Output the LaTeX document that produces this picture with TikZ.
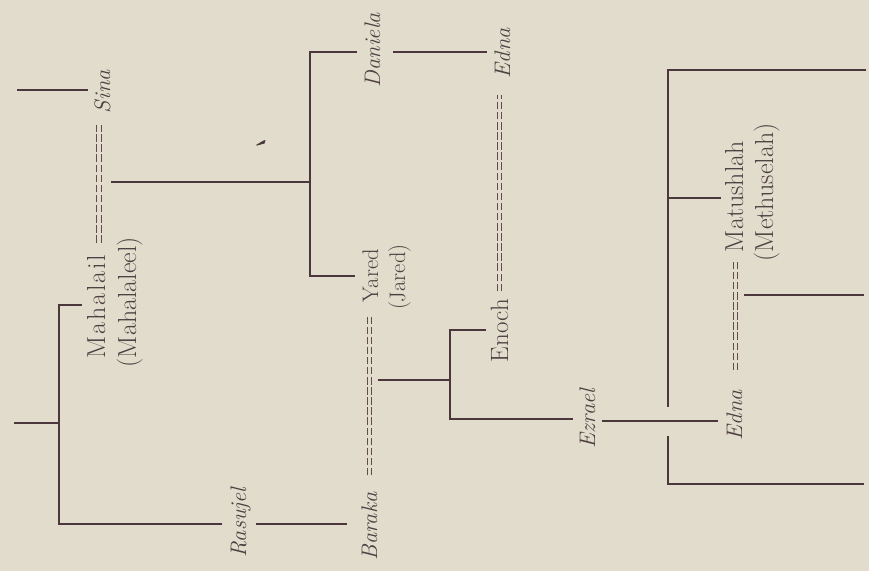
\documentclass[tikz,border=0pt]{standalone}
\usepackage{fontspec}
\definecolor{bg}{HTML}{E2DCCD}
\definecolor{ink}{HTML}{4B373C}
\definecolor{txt}{HTML}{4E3F41}
\definecolor{dashc}{HTML}{634A4C}
\tikzset{
  person/.style={rotate=90, anchor=base west, inner sep=0pt, outer sep=0pt, text=txt,
    font=\fontsize{22.5}{27}\selectfont\addfontfeature{FakeBold=0.6}},
  bigperson/.style={person, font=\fontsize{26}{31}\selectfont\addfontfeature{FakeBold=0.6}},
  midperson/.style={person, font=\fontsize{25}{30}\selectfont\addfontfeature{FakeBold=0.6}},
  iperson/.style={person, font=\fontsize{22.5}{27}\selectfont\itshape\addfontfeature{FakeBold=0.6}},
  tree/.style={draw=ink, line width=1.4pt},
  marr/.style={draw=dashc, line width=1.1pt, double=bg, double distance=3.2pt,
    dash pattern=on 7.5pt off 2.6pt},
}
\begin{document}
\begin{tikzpicture}[x=1pt,y=-1pt]
\fill[bg] (0,0) rectangle (869,571);
\useasboundingbox (0,0) rectangle (869,571);

% names
\node[iperson] (sina) at (110,113) {Sina};
\node[bigperson] (mah) at (105,358) {M\kern1.8pt a\kern1.8pt h\kern1.8pt a\kern1.8pt l\kern1.8pt a\kern1.8pt i\kern1.8pt l};
\node[bigperson] (mahb) at (136,358) {\llap{(}Mahalaleel)};
\node[iperson] (ras) at (246,557) {Rasujel};
\node[iperson] (dan) at (380,87) {Daniela};
\node[iperson] (ednaA) at (510,78) {Edna};
\node[person] (yar) at (378,302) {Yared};
\node[person] (yarb) at (405,302) {\llap{(}Jared)};
\node[iperson] (bar) at (377,560) {Baraka};
\node[midperson] (eno) at (508,362) {Enoch};
\node[iperson] (ezr) at (595,448) {Ezrael};
\node[iperson] (ednaB) at (742,440) {Edna};
\node[bigperson] (mat) at (743,252) {Matushlah};
\node[bigperson] (matb) at (773,252) {\llap{(}Methuselah)};

% coordinates
\coordinate (s1) at (17,90);
\coordinate (s2) at (14,423);
\coordinate (b2t) at (59,305);
\coordinate (b2b) at (59,524);
\coordinate (mm1) at (111,182);
\coordinate (b1t) at (310,52);
\coordinate (b1b) at (310,276);
\coordinate (mm2) at (378,380);
\coordinate (b3t) at (450,330);
\coordinate (b3b) at (450,419);
\coordinate (b4t) at (668,70);
\coordinate (b4m) at (668,198);
\coordinate (b4u) at (668,407);
\coordinate (b4x) at (668,421);
\coordinate (b4l) at (668,436);
\coordinate (b4b) at (668,484);
\coordinate (e1) at (866,70);
\coordinate (e2) at (864,484);
\coordinate (mm3) at (744,295);
\coordinate (e3) at (864,295);

% marriages
\draw[marr, shorten <=12pt, shorten >=12pt] ([xshift=3pt]mah.east) -- ([xshift=3pt]mah.east |- sina.west);
\draw[marr, shorten <=17pt, shorten >=15pt] (bar.east) -- (bar.east |- yar.west);
\draw[marr, shorten <=8pt, shorten >=17pt] (eno.east) -- (eno.east |- ednaA.west);
\draw[marr, shorten <=20pt, shorten >=8pt] ([xshift=1pt]ednaB.east) -- ([xshift=1pt]ednaB.east |- mat.west);

% tree lines
\draw[tree, shorten >=6pt] (s1) -- (s1 -| sina.north);
\draw[tree] (s2) -- (s2 -| b2t);
\draw[tree, shorten <=5pt, shorten >=8pt] (b2t -| mah.north) -- (b2t) -- (b2b) -- (b2b -| ras.north);
\draw[tree, shorten <=5.5pt, shorten >=14pt] (ras.south |- b2b) -- (bar.north |- b2b);
\draw[tree] (mm1) -- (mm1 -| b1t);
\draw[tree, shorten <=7pt, shorten >=7pt] (b1t -| dan.north) -- (b1t) -- (b1b) -- (b1b -| yar.north);
\draw[tree, shorten <=13pt, shorten >=7pt] (dan.south |- b1t) -- (ednaA.north |- b1t);
\draw[tree] (mm2) -- (mm2 -| b3t);
\draw[tree, shorten <=5pt, shorten >=6.5pt] (b3t -| eno.north) -- (b3t) -- (b3b) -- (b3b -| ezr.north);
\draw[tree, shorten <=7pt, shorten >=8pt] (ezr.south |- b4x) -- (ednaB.north |- b4x);
\draw[tree] (e1) -- (b4t) -- (b4u);
\draw[tree, shorten >=3.5pt] (b4m) -- (b4m -| mat.north);
\draw[tree] (b4l) -- (b4b) -- (e2);
\draw[tree] (mm3) -- (e3);

% stray mark
\fill[ink] (256,145) -- (263,140.8) -- (265.5,140) -- (264.5,143.5) -- (257,145.5) -- cycle;
\end{tikzpicture}
\end{document}
